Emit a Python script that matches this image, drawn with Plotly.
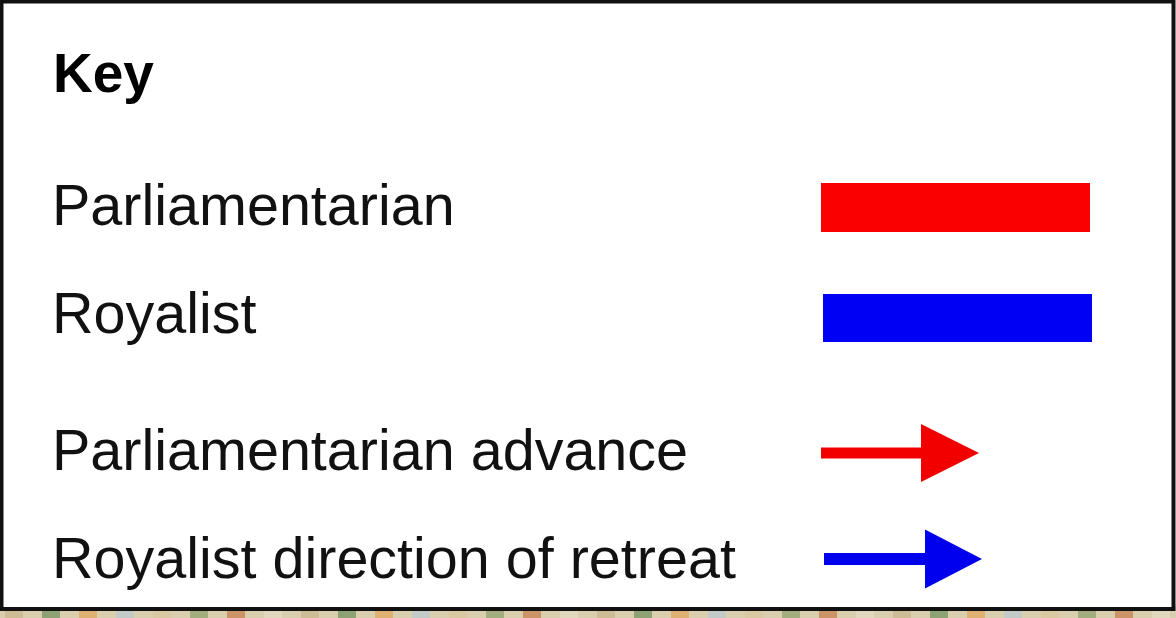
import plotly.graph_objects as go

# ---- content ----
title_text = "Key"
labels = ["Parliamentarian", "Royalist", "Parliamentarian advance", "Royalist direction of retreat"]
symbol_kinds = ["bar", "bar", "arrow", "arrow"]
symbol_colors = ["#fa0000", "#0000f5", "#f20000", "#0000ee"]

# ---- layout constants (pixel space, y downward) ----
W, H = 1176, 618
label_x = 50
title_y = 73
label_y = [205, 313, 450, 558]
bar_boxes = [(821, 183, 1090, 232), (823, 294, 1092, 342)]
arrow_geo = [  # shaft_x0, shaft_x1, shaft_y, shaft_half, head_half, tip_x
    (821, 921, 453, 5.5, 29, 979),
    (824, 925, 559, 6, 29.5, 982),
]

fig = go.Figure()
shapes = []
# background strip (map texture peeking below the box)
shapes.append(dict(type="rect", xref="x", yref="y", x0=0, x1=W, y0=606, y1=H,
                   fillcolor="#d9cfae", line=dict(width=0), layer="below"))
strip_cols = ["#c9b48a", "#6f8f5a", "#e0a45a", "#b7c8d0", "#d8c49a", "#8aa06a", "#c87a4a", "#e6dcc4"]
for i, c in enumerate(strip_cols * 4):
    x0 = i * 37 + 5
    shapes.append(dict(type="rect", xref="x", yref="y", x0=x0, x1=x0 + 18, y0=611, y1=H,
                       fillcolor=c, line=dict(width=0), opacity=0.7, layer="below"))
# white key box with black border
shapes.append(dict(type="rect", xref="x", yref="y", x0=1.5, x1=1173.5, y0=1.5, y1=609,
                   fillcolor="white", line=dict(color="#111111", width=4), layer="below"))

bi = 0
ai = 0
for kind, col in zip(symbol_kinds, symbol_colors):
    if kind == "bar":
        x0, y0, x1, y1 = bar_boxes[bi]
        bi += 1
        shapes.append(dict(type="rect", xref="x", yref="y", x0=x0, x1=x1, y0=y0, y1=y1,
                           fillcolor=col, line=dict(width=0)))
    else:
        sx0, sx1, sy, sh, hh, tip = arrow_geo[ai]
        ai += 1
        path = (f"M {sx0},{sy-sh} L {sx1},{sy-sh} L {sx1},{sy-hh} L {tip},{sy} "
                f"L {sx1},{sy+hh} L {sx1},{sy+sh} L {sx0},{sy+sh} Z")
        shapes.append(dict(type="path", xref="x", yref="y", path=path,
                           fillcolor=col, line=dict(width=0)))

annotations = [dict(x=label_x + 1, y=title_y, xref="x", yref="y", text=f"<b>{title_text}</b>",
                    showarrow=False, xanchor="left", yanchor="middle",
                    font=dict(family="Liberation Sans, Arial", size=55, color="black"))]
for lab, y in zip(labels, label_y):
    annotations.append(dict(x=label_x, y=y, xref="x", yref="y", text=lab, showarrow=False,
                            xanchor="left", yanchor="middle",
                            font=dict(family="Liberation Sans, Arial", size=57.5, color="#111111")))

fig.update_layout(
    width=W, height=H, margin=dict(l=0, r=0, t=0, b=0),
    paper_bgcolor="white", plot_bgcolor="white",
    xaxis=dict(range=[0, W], visible=False, fixedrange=True),
    yaxis=dict(range=[H, 0], visible=False, fixedrange=True),
    shapes=shapes, annotations=annotations, showlegend=False,
)
fig.write_html("out.html", config={"displayModeBar": False},
               post_script="document.body.style.margin='0';document.body.style.overflow='hidden';")
